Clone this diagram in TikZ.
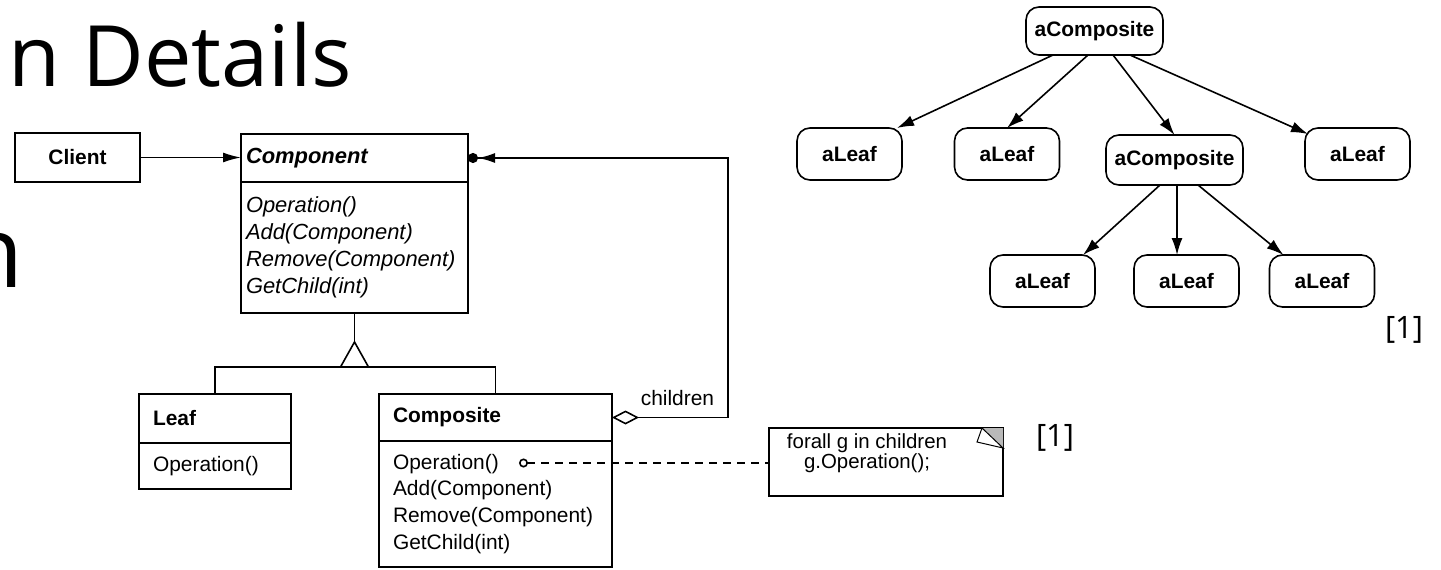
\documentclass[tikz,border=0pt]{standalone}
\usepackage{fontspec}
\setmainfont{Liberation Sans}
\newfontfamily\slidefont{Open Sans}
\usetikzlibrary{calc,positioning,arrows.meta}

\tikzset{
  umlhead/.style={draw, outer sep=0pt, anchor=north west, inner xsep=14bp, inner ysep=0pt,
    align=left, font=\bfseries\fontsize{21}{27}\selectfont},
  umlbody/.style={draw, outer sep=0pt, inner xsep=14bp, inner ysep=0pt,
    align=left, font=\fontsize{21}{27}\selectfont},
  obj/.style={draw, outer sep=0pt, rounded corners=13bp, minimum width=105bp, minimum height=52bp,
    font=\bfseries\fontsize{21}{21}\selectfont},
  ref/.style={font=\slidefont\fontsize{31}{31}\selectfont, inner sep=0pt}
}

\begin{document}
\begin{tikzpicture}[x=1bp, y=-1bp, line width=1.6bp, >={Latex[length=17bp,width=11bp]}]
  \useasboundingbox (0,0) rectangle (1441,570);

  \node[font=\slidefont\fontsize{85}{85}\selectfont, anchor=base east, inner sep=0pt] (title) at (353,87) {n Details};
  \node[font=\slidefont\fontsize{100}{100}\selectfont, anchor=base east, inner sep=0pt] (bodyline) at (24,287) {n};

  \node[draw, outer sep=0pt, anchor=north west, minimum width=125bp, minimum height=49bp,
        font=\bfseries\fontsize{21}{27}\selectfont] (client) at (15,133) {Client};

  \node[umlhead, inner xsep=5bp, text width=217bp, minimum height=48bp,
        font=\bfseries\itshape\fontsize{22}{27}\selectfont] (component) at (241,134) {Component};
  \node[umlbody, below=0pt of component, inner xsep=5bp, text width=217bp, minimum height=131bp,
        font=\itshape\fontsize{22}{27}\selectfont] (componentops)
       {Operation()\\Add(Component)\\Remove(Component)\\GetChild(int)};

  \node[umlhead, text width=124bp, minimum height=49bp] (leaf) at (139,394) {Leaf};
  \node[umlbody, below=0pt of leaf, text width=124bp, minimum height=46bp] (leafops) {Operation()};

  \node[umlhead, text width=205bp, minimum height=47bp] (composite) at (379,394) {Composite};
  \node[umlbody, below=0pt of composite, text width=205bp, minimum height=126bp] (compositeops)
       {Operation()\\Add(Component)\\Remove(Component)\\GetChild(int)};

  \node[draw, outer sep=0pt, anchor=north west, minimum width=234bp, minimum height=68bp] (note) at (769,428) {};
  \node[align=center, font=\fontsize{20.5}{19}\selectfont] (notetext) at ($(note.center)+(-19,-9)$)
       {forall g in children\\g.Operation();};
  \fill[gray!55] (note.north east) -- ++(-21,0) -- ++(21,20) -- cycle;
  \filldraw[fill=white, line width=1bp] ($(note.north east)+(-21,0)$) -- ++(-5,14) -- ($(note.north east)+(0,20)$) -- cycle;

  \draw[-{Latex[length=18bp,width=10bp]}] (client.east) -- (client.east -| component.west);

  \draw (componentops.south) -- ++(0,29) coordinate (apex);
  \draw (apex) -- ++(-14,25) -- ++(28,0) -- cycle;
  \coordinate (fork) at ($(apex)+(0,25)$);
  \draw (leaf.north) |- (fork) -| (composite.north);

  \draw[{Circle[length=10bp]Latex[length=17bp,width=10bp]}-{Diamond[open,length=27bp,width=14bp]}]
       (component.east) -- ++(260,0) |- (composite.east);
  \node[font=\fontsize{21}{27}\selectfont, anchor=base west, inner sep=0pt] (children)
       at ($(composite.east)+(28,-12)$) {children};

  \coordinate (opknob) at (519,463);
  \draw[dash pattern=on 8bp off 6bp, {Circle[open,length=9bp,width=9bp]}-] (opknob) -- (opknob -| note.west);

  \node[ref] (noteref) at (1055,438) {[1]};

  \node[obj, minimum width=137bp, minimum height=48bp] (root) at (1094.5,31) {aComposite};
  \node[obj] (leafa) at (849.5,154) {aLeaf};
  \node[obj] (leafb) at (1007,154) {aLeaf};
  \node[obj, minimum width=137bp, minimum height=50bp] (sub) at (1174.5,160) {aComposite};
  \node[obj] (leafc) at (1357.5,154) {aLeaf};
  \node[obj] (leafd) at (1042.5,281) {aLeaf};
  \node[obj] (leafe) at (1186.5,281) {aLeaf};
  \node[obj] (leaff) at (1322,281) {aLeaf};

  \path[->] ($(root.south)+(-41.5,0)$) edge ($(leafa.north east)+(-5,0)$)
            ($(root.south)+(-6.5,0)$)  edge (leafb.north)
            ($(root.south)+(18.5,0)$)  edge (sub.north)
            ($(root.south)+(35.5,0)$)  edge ($(leafc.north west)+(3,6)$)
            ($(sub.south)+(-14.5,0)$)  edge ($(leafd.north east)+(-12,0)$)
            ($(sub.south)+(2.5,0)$)    edge ($(leafe.north)+(-9.5,0)$)
            ($(sub.south)+(23.5,0)$)   edge ($(leaff.north west)+(14,0)$);

  \node[ref] (treeref) at (1404,330) {[1]};
\end{tikzpicture}
\end{document}
